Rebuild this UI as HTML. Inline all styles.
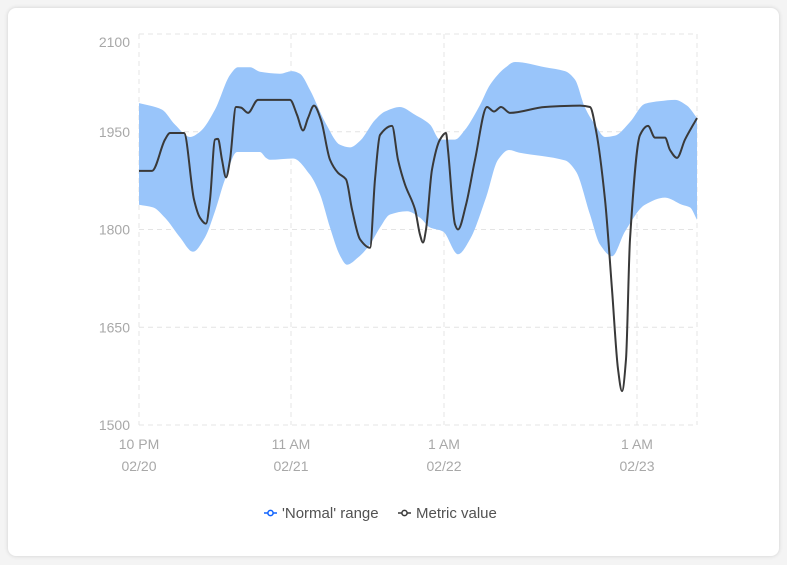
<!DOCTYPE html>
<html><head><meta charset="utf-8"><style>
html,body{margin:0;padding:0;background:#f4f4f4;}
body{width:787px;height:565px;position:relative;overflow:hidden;font-family:"Liberation Sans",sans-serif;}
#card{position:absolute;left:8px;top:8px;width:771px;height:548px;background:#fff;border-radius:8px;box-shadow:0 0 4px rgba(0,0,0,0.15);}
svg{position:absolute;left:0;top:0;}
</style></head><body>
<div id="card"></div>
<svg id="chart" width="787" height="565"></svg>
<script>
const yTicks=[1500,1650,1800,1950,2100];
const xTickPos=[0,15.2,30.5,49.8];
const xTickLine1=["10 PM","11 AM","1 AM","1 AM"];
const xTickLine2=["02/20","02/21","02/22","02/23"];
const metricX=[0,1.3,2.6,3.1,4.5,5.5,6.1,6.7,7.1,7.6,7.9,8.3,8.7,9.1,9.7,10.2,10.9,11.9,15.1,15.8,16.4,16.9,17.5,18.2,19.1,19.9,20.7,21.3,22.1,23.1,23.6,24.1,25.3,25.9,26.6,27.6,28.1,28.4,28.7,29.3,30.1,30.7,30.9,31.6,31.9,32.7,33.6,34.8,35.5,36.2,37.1,40.6,44.1,45.1,45.7,46.6,47.3,47.9,48.3,48.7,49.1,50.1,50.9,51.6,52.6,53.1,53.8,54.6,55.8];
const metricV=[1890,1890,1938,1948,1948,1846,1818,1809,1846,1938,1939,1907,1880,1907,1988,1987,1979,1999,1999,1976,1952,1971,1990,1968,1907,1887,1877,1831,1785,1772,1877,1945,1959,1907,1869,1831,1792,1780,1800,1892,1938,1948,1922,1808,1800,1838,1907,1988,1981,1988,1979,1988,1990,1988,1952,1846,1708,1586,1552,1601,1785,1945,1959,1941,1941,1922,1910,1938,1971];
const upperX=[0,1.1,2.3,3.6,5.1,6.1,7.6,9.1,9.9,11.1,12.1,14.1,15.3,16.1,17.1,18.6,20.1,21.1,22.1,23.6,24.6,26.1,27.6,29.1,30.1,31.6,32.6,34.1,35.1,36.6,37.6,40.6,42.6,43.6,44.6,45.6,46.6,47.6,49.1,50.6,52.1,53.6,54.8,55.8];
const upperV=[1994,1990,1984,1961,1942,1950,1984,2037,2049,2049,2042,2039,2043,2039,2014,1965,1930,1926,1936,1968,1981,1988,1976,1961,1938,1938,1953,1991,2022,2048,2057,2049,2043,2030,1987,1961,1942,1944,1965,1993,1997,1999,1990,1971];
const lowerX=[0,1.4,2.6,4.1,5.4,6.6,7.6,8.6,9.8,12.1,12.7,13.1,15.4,17.1,18.1,19.1,20.1,20.8,21.9,23.1,24.1,25.1,26.8,28.1,29.1,30.4,31.9,33.1,34.7,35.9,37,38,42.6,43.7,45.1,46.1,47.3,48.6,50.6,52.6,54.3,55.1,55.8];
const lowerV=[1838,1834,1818,1788,1766,1788,1828,1877,1919,1919,1910,1907,1909,1884,1854,1803,1760,1746,1757,1777,1803,1823,1828,1818,1803,1797,1762,1785,1849,1907,1922,1918,1906,1889,1823,1777,1759,1797,1838,1849,1838,1834,1815];

const X0=139,X1=697,Y0=425,Y1=34,XMAX=55.8;
const sx=v=>X0+(v/XMAX)*(X1-X0);
const sy=v=>Y0-(v-1500)/600*(Y0-Y1);
const NS="http://www.w3.org/2000/svg";
const svg=document.getElementById('chart');
function mk(tag,attrs,parent){const e=document.createElementNS(NS,tag);for(const k in attrs)e.setAttribute(k,attrs[k]);(parent||svg).appendChild(e);return e;}
function monoPath(xs,ys,move){
  const n=xs.length,px=xs.map(sx),py=ys.map(sy);
  const d=[],m=[];
  for(let i=0;i<n-1;i++)d.push((py[i+1]-py[i])/(px[i+1]-px[i]));
  for(let i=0;i<n;i++){
    if(i===0)m.push(d[0]);else if(i===n-1)m.push(d[n-2]);
    else m.push(d[i-1]*d[i]<=0?0:2*d[i-1]*d[i]/(d[i-1]+d[i]));
  }
  let s=(move?'M':'L')+px[0]+','+py[0];
  for(let i=0;i<n-1;i++){const h=(px[i+1]-px[i])/3;
    s+=' C'+(px[i]+h)+','+(py[i]+m[i]*h)+' '+(px[i+1]-h)+','+(py[i+1]-m[i+1]*h)+' '+px[i+1]+','+py[i+1];}
  return s;
}
yTicks.forEach((t,i)=>{
  const g=mk('line',{x1:X0,x2:X1,y1:sy(t),y2:sy(t),stroke:'#e4e4e4','stroke-dasharray':'5,4','stroke-width':1});
  
  const off=(i===yTicks.length-1)?13:5;
  const l=mk('text',{x:X0-9,y:sy(t)+off,'text-anchor':'end','font-size':14,fill:'#a8a8a8'});
  l.textContent=t;
  
});
xTickPos.concat([XMAX]).forEach(t=>{
  const g=mk('line',{x1:sx(t),x2:sx(t),y1:Y1,y2:Y0,stroke:'#e4e4e4','stroke-dasharray':'5,4','stroke-width':1});
  
});
xTickPos.forEach((t,i)=>{
  const a=mk('text',{x:sx(t),y:449,'text-anchor':'middle','font-size':14,fill:'#a8a8a8'});a.textContent=xTickLine1[i];
  
  const b=mk('text',{x:sx(t),y:471,'text-anchor':'middle','font-size':14,fill:'#a8a8a8'});b.textContent=xTickLine2[i];
  
});
const rx=upperX.slice().reverse(),rv=upperV.slice().reverse();
const band=mk('path',{d:monoPath(lowerX,lowerV,true)+' '+monoPath(rx,rv,false)+'Z',fill:'#99c5fa',stroke:'none'});

const line=mk('path',{d:monoPath(metricX,metricV,true),fill:'none',stroke:'#393939','stroke-width':2});

const lg=mk('g',{});

function entry(x,color,label,name){
  const g=mk('g',{},lg);
  
  mk('line',{x1:x,x2:x+13,y1:513,y2:513,stroke:color,'stroke-width':1.5},g);
  mk('circle',{cx:x+6.5,cy:513,r:2.6,fill:'#fff',stroke:color,'stroke-width':1.5},g);
  const t=mk('text',{x:x+18,y:518,'font-size':15,fill:'#525252'},g);t.textContent=label;
}
entry(264,'#0f62fe',"'Normal' range",'legend-entry-normal-range');
entry(398,'#393939','Metric value','legend-entry-metric-value');
</script>
</body></html>
